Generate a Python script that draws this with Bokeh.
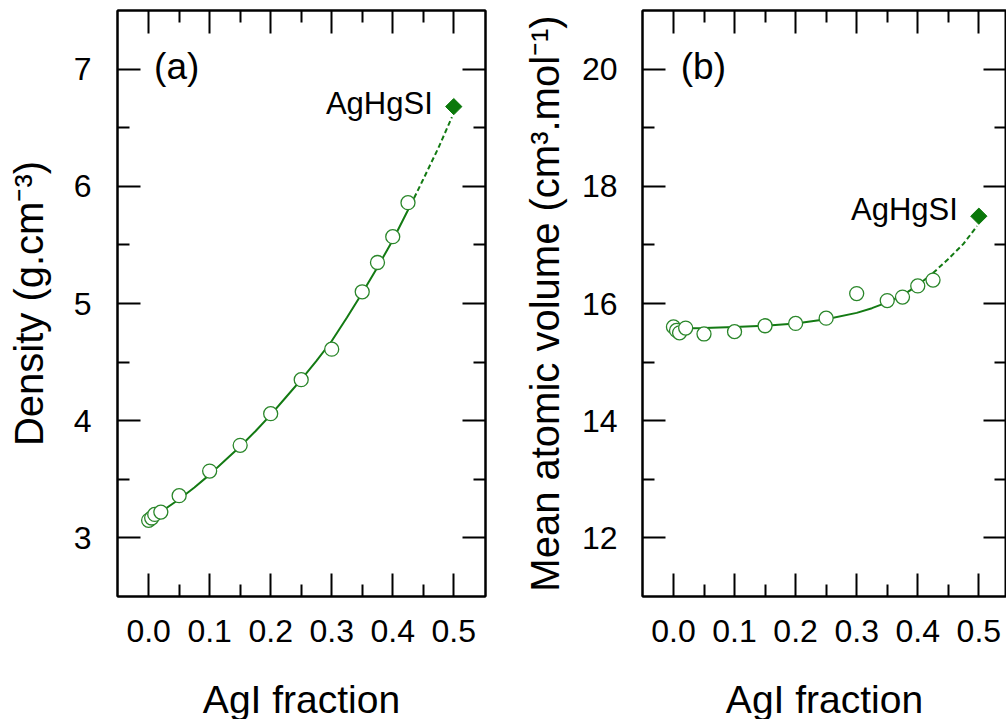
from bokeh.plotting import figure
from bokeh.models import (FixedTicker, LinearAxis, Range1d, Label,
                          CustomJSTickFormatter, PrintfTickFormatter)
from bokeh.layouts import row, column
from bokeh.embed import file_html
from bokeh.resources import INLINE
from bokeh.core.properties import value
import math

# ---------------- data ----------------
agi_fraction = [0.0, 0.005, 0.01, 0.02, 0.05, 0.1, 0.15, 0.2, 0.25, 0.3, 0.35, 0.375, 0.4, 0.425]
density = [3.15, 3.17, 3.20, 3.22, 3.36, 3.57, 3.79, 4.06, 4.35, 4.61, 5.10, 5.35, 5.57, 5.86]
volume = [15.60, 15.54, 15.50, 15.58, 15.48, 15.52, 15.62, 15.66, 15.75, 16.17, 16.05, 16.11, 16.30, 16.40]

fit_density_x = [0.0, 0.025, 0.05, 0.075, 0.1, 0.125, 0.15, 0.175, 0.2, 0.225, 0.25, 0.275, 0.3, 0.325, 0.35, 0.375, 0.4, 0.435]
fit_density_y = [3.16, 3.24, 3.33, 3.43, 3.54, 3.66, 3.78, 3.91, 4.05, 4.20, 4.35, 4.51, 4.68, 4.88, 5.09, 5.31, 5.54, 5.90]
ext_density_x = [0.435, 0.45, 0.475, 0.497]
ext_density_y = [5.90, 6.06, 6.33, 6.59]

fit_volume_x = [0.0, 0.05, 0.1, 0.15, 0.2, 0.25, 0.3, 0.325, 0.35, 0.375, 0.4, 0.425]
fit_volume_y = [15.57, 15.58, 15.60, 15.62, 15.66, 15.73, 15.84, 15.92, 16.02, 16.14, 16.31, 16.52]
ext_volume_x = [0.425, 0.45, 0.475, 0.497]
ext_volume_y = [16.52, 16.76, 17.02, 17.32]

compound_name = ["AgHgSI"]
compound_x = [0.5]
compound_density = [6.68]
compound_volume = [17.49]

x_ticks = [0.0, 0.1, 0.2, 0.3, 0.4, 0.5]
x_minor = [0.05, 0.15, 0.25, 0.35, 0.45]
density_ticks = [3, 4, 5, 6, 7]
density_minor = [3.5, 4.5, 5.5, 6.5]
volume_ticks = [12, 14, 16, 18, 20]
volume_minor = [13, 15, 17, 19]

x_title = ["AgI fraction"]
density_title = "Density (g.cm\u207B\u00B3)"
volume_title = "Mean atomic volume (cm\u00B3.mol\u207B\u00B9)"

# ---------------- style ----------------
FONT = "Liberation Sans"
LINE_COLOR = "#137a13"
CIRCLE_COLOR = "#2a862a"
DIAMOND_COLOR = "#0a780a"
H_TOTAL = 719
H_MAIN = 660
W_A = 510


def style_axis(ax, ticks, minor, show_labels=True, standoff=20,
               label_standoff=18, title_size="40px"):
    ax.ticker = FixedTicker(ticks=ticks, minor_ticks=minor)
    ax.major_tick_in = 23
    ax.major_tick_out = 0
    ax.minor_tick_in = 12
    ax.minor_tick_out = 0
    ax.major_tick_line_width = 2
    ax.minor_tick_line_width = 2
    ax.major_tick_line_color = "black"
    ax.minor_tick_line_color = "black"
    ax.axis_line_width = 2
    ax.axis_line_color = "black"
    if show_labels:
        ax.major_label_text_font = FONT
        ax.major_label_text_font_size = "32px"
        ax.major_label_text_color = "black"
        ax.major_label_standoff = standoff
        ax.axis_label_text_font = FONT
        ax.axis_label_text_font_size = title_size
        ax.axis_label_text_font_style = "normal"
        ax.axis_label_text_color = "black"
        ax.axis_label_standoff = label_standoff
    else:
        ax.formatter = CustomJSTickFormatter(code="return ''")
        ax.major_label_text_font_size = "0px"
        ax.major_label_standoff = 0


def make_panel(width, border_left, border_right, x_range, y_range,
               yvals, fit_x, fit_y, ext_x, ext_y, comp_y,
               y_ticks, y_minor, y_title, tag, tag_xy, y_std, y_lab_std,
               text_dy):
    p = figure(width=width, height=H_MAIN, x_range=Range1d(*x_range),
               y_range=Range1d(*y_range), output_backend="svg",
               toolbar_location=None, x_axis_location=None,
               y_axis_location=None)
    p.min_border_left = border_left
    p.min_border_right = border_right
    p.min_border_top = 10
    p.min_border_bottom = H_MAIN - 596
    p.xgrid.visible = False
    p.ygrid.visible = False
    p.outline_line_color = "black"
    p.outline_line_width = 2
    p.outline_line_alpha = 1.0
    p.background_fill_color = "white"
    p.border_fill_color = "white"

    xb = LinearAxis(formatter=PrintfTickFormatter(format="%.1f"))
    style_axis(xb, x_ticks, x_minor, True, standoff=23)
    p.add_layout(xb, "below")
    xt = LinearAxis()
    style_axis(xt, x_ticks, x_minor, False)
    p.add_layout(xt, "above")
    yl = LinearAxis(axis_label=y_title)
    style_axis(yl, y_ticks, y_minor, True, standoff=y_std,
               label_standoff=y_lab_std)
    p.add_layout(yl, "left")
    yr = LinearAxis()
    style_axis(yr, y_ticks, y_minor, False)
    p.add_layout(yr, "right")

    p.line(fit_x, fit_y, line_color=LINE_COLOR, line_width=2)
    p.line(ext_x, ext_y, line_color=LINE_COLOR, line_width=2,
           line_dash="5 3")
    p.scatter(agi_fraction, yvals, marker="circle", size=14,
              fill_color="white", line_color=CIRCLE_COLOR, line_width=1.3)
    p.scatter(compound_x, comp_y, marker="square", angle=math.pi / 4,
              size=11.5, fill_color=DIAMOND_COLOR, line_color=DIAMOND_COLOR)
    p.text(compound_x, comp_y, text=compound_name, x_offset=-21,
           y_offset=text_dy, text_align="right", text_baseline="middle",
           text_font=value(FONT), text_font_size="31px", text_color="black")
    p.add_layout(Label(x=tag_xy[0], y=tag_xy[1], text=tag,
                       text_font=FONT, text_font_size="37px",
                       text_baseline="middle", text_align="left",
                       text_color="black"))

    # strip below the panel holding the x-axis title, sharing the x scale
    h_t = H_TOTAL - H_MAIN
    t = figure(width=width, height=h_t, x_range=p.x_range,
               y_range=Range1d(h_t, 0), output_backend="svg",
               toolbar_location=None, x_axis_location=None,
               y_axis_location=None, min_border=0)
    t.min_border_left = border_left
    t.min_border_right = border_right
    t.min_border_top = 0
    t.min_border_bottom = 0
    t.xgrid.visible = False
    t.ygrid.visible = False
    t.outline_line_color = None
    t.background_fill_color = "white"
    t.border_fill_color = "white"
    xc = [(x_range[0] + x_range[1]) / 2]
    t.text(xc, [17], text=x_title, text_align="center",
           text_baseline="top", text_font=value(FONT),
           text_font_size="39px", text_color="black")
    return column(p, t, spacing=0)


pa = make_panel(W_A, 117, W_A - 485, (-0.051, 0.552), (2.5, 7.5),
                density, fit_density_x, fit_density_y,
                ext_density_x, ext_density_y, compound_density,
                density_ticks, density_minor, density_title,
                "(a)", (0.009, 7.02), 26, 20, -3)

pb = make_panel(1006 - W_A, 642 - W_A, 0, (-0.0507, 0.5453), (11, 21),
                volume, fit_volume_x, fit_volume_y,
                ext_volume_x, ext_volume_y, compound_volume,
                volume_ticks, volume_minor, volume_title,
                "(b)", (0.012, 20.04), 25, 12, -7)

layout = row(pa, pb, spacing=0)
open("out.html", "w").write(file_html(layout, INLINE))
